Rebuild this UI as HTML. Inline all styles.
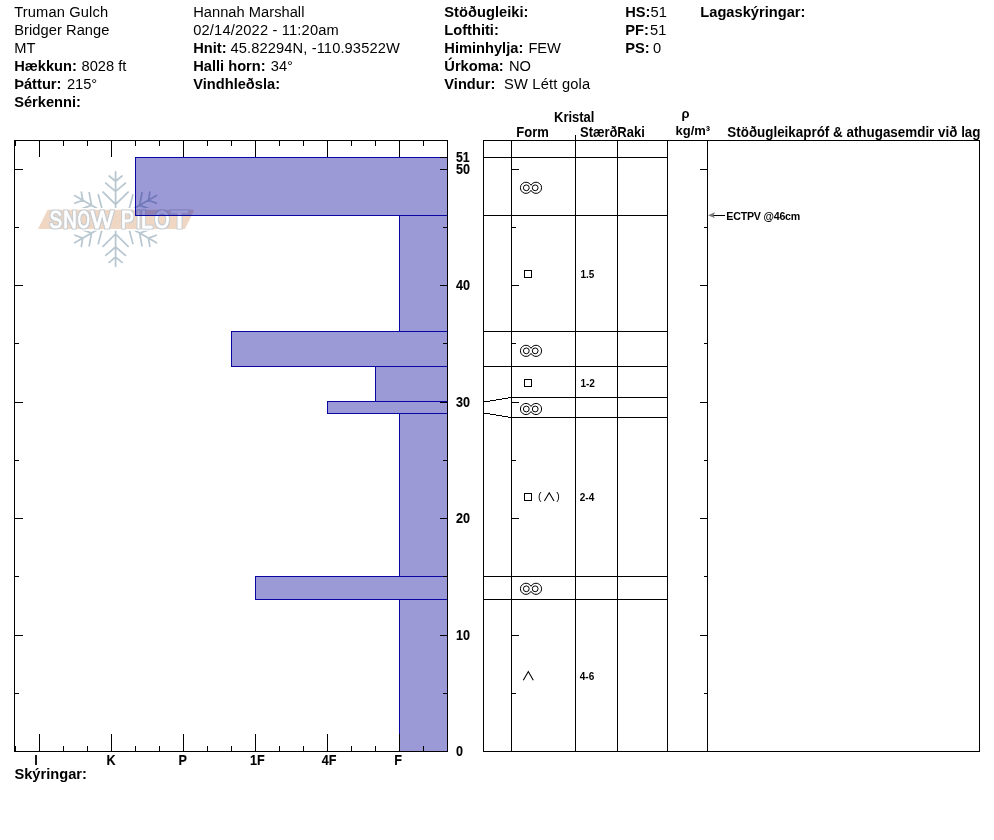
<!DOCTYPE html>
<html lang="is"><head><meta charset="utf-8"><title>Snow Pilot</title>
<style>html,body{margin:0;padding:0;background:#fff}body{width:994px;height:840px;overflow:hidden}svg{display:block}text{font-family:"Liberation Sans", sans-serif;fill:#000}.b{font-weight:bold}.h{font-size:11pt}.l{stroke:#000;stroke-width:1;shape-rendering:crispEdges;fill:none}.ax{font-size:14px;stroke:#000;stroke-width:.12px}.th{font-size:14px}.th2{font-size:13.33px}.sm{font-size:8pt}.par{font-size:10.5px}.lg{font-size:24px;fill:#fff;stroke:#fff;stroke-width:.8px}</style></head><body>
<svg width="994" height="840" viewBox="0 0 994 840">
<rect width="994" height="840" fill="#fff"/>
<text x="14.2" y="16.7" class="h" letter-spacing="0.145">Truman Gulch</text>
<text x="14.2" y="34.7" class="h" letter-spacing="0.06">Bridger Range</text>
<text x="14.2" y="52.7" class="h">MT</text>
<text x="14.2" y="70.7" class="h b">Hækkun:</text>
<text x="81.5" y="70.7" class="h">8028 ft</text>
<text x="14.2" y="88.7" class="h b">Þáttur:</text>
<text x="66.9" y="88.7" class="h">215°</text>
<text x="14.2" y="106.7" class="h b">Sérkenni:</text>
<text x="193.2" y="16.7" class="h" letter-spacing="0.03">Hannah Marshall</text>
<text x="193.2" y="34.7" class="h" letter-spacing="0.17">02/14/2022 - 11:20am</text>
<text x="193.2" y="52.7" class="h b">Hnit:</text>
<text x="230.5" y="52.7" class="h" letter-spacing="0.12">45.82294N, -110.93522W</text>
<text x="193.2" y="70.7" class="h b">Halli horn:</text>
<text x="270.8" y="70.7" class="h">34°</text>
<text x="193.2" y="88.7" class="h b">Vindhleðsla:</text>
<text x="444.3" y="16.7" class="h b" letter-spacing="0.03">Stöðugleiki:</text>
<text x="444.3" y="34.7" class="h b">Lofthiti:</text>
<text x="444.3" y="52.7" class="h b">Himinhylja:</text>
<text x="528.4" y="52.7" class="h">FEW</text>
<text x="444.3" y="70.7" class="h b">Úrkoma:</text>
<text x="508.9" y="70.7" class="h">NO</text>
<text x="444.3" y="88.7" class="h b">Vindur:</text>
<text x="504.1" y="88.7" class="h" letter-spacing="0.2">SW Létt gola</text>
<text x="625.2" y="16.7" class="h b">HS:</text>
<text x="650.5" y="16.7" class="h">51</text>
<text x="625.2" y="34.7" class="h b">PF:</text>
<text x="650.1" y="34.7" class="h">51</text>
<text x="625.2" y="52.7" class="h b">PS:</text>
<text x="653.0" y="52.7" class="h">0</text>
<text x="700.3" y="16.7" class="h b">Lagaskýringar:</text>
<g opacity="0.5">
<g stroke="#7691a3" stroke-width="1.8" stroke-linecap="round" fill="none">
<g transform="translate(115.6 219.2) rotate(0) scale(0.985)">
<path d="M0 -9V-48 M-12.7 -27.6L0 -15L12.7 -27.6 M-10 -36.7L0 -28.2L10 -36.7 M-6.5 -43.9L0 -38.5L6.5 -43.9"/>
</g>
<g transform="translate(115.6 219.2) rotate(60) scale(0.985)">
<path d="M0 -9V-48 M-12.7 -27.6L0 -15L12.7 -27.6 M-10 -36.7L0 -28.2L10 -36.7 M-6.5 -43.9L0 -38.5L6.5 -43.9"/>
</g>
<g transform="translate(115.6 219.2) rotate(120) scale(0.985)">
<path d="M0 -9V-48 M-12.7 -27.6L0 -15L12.7 -27.6 M-10 -36.7L0 -28.2L10 -36.7 M-6.5 -43.9L0 -38.5L6.5 -43.9"/>
</g>
<g transform="translate(115.6 219.2) rotate(180) scale(0.985)">
<path d="M0 -9V-48 M-12.7 -27.6L0 -15L12.7 -27.6 M-10 -36.7L0 -28.2L10 -36.7 M-6.5 -43.9L0 -38.5L6.5 -43.9"/>
</g>
<g transform="translate(115.6 219.2) rotate(240) scale(0.985)">
<path d="M0 -9V-48 M-12.7 -27.6L0 -15L12.7 -27.6 M-10 -36.7L0 -28.2L10 -36.7 M-6.5 -43.9L0 -38.5L6.5 -43.9"/>
</g>
<g transform="translate(115.6 219.2) rotate(300) scale(0.985)">
<path d="M0 -9V-48 M-12.7 -27.6L0 -15L12.7 -27.6 M-10 -36.7L0 -28.2L10 -36.7 M-6.5 -43.9L0 -38.5L6.5 -43.9"/>
</g>
</g>
<path d="M47.6 209.7H194.5L185 229H38Z" fill="#e2b18a" stroke="#fff" stroke-width="3.4" paint-order="stroke"/>
<filter id="ol" x="-5%" y="-20%" width="110%" height="140%"><feMorphology in="SourceAlpha" operator="dilate" radius="0.7" result="d"/><feFlood flood-color="#8a9ba8"/><feComposite in2="d" operator="in" result="o"/><feMerge><feMergeNode in="o"/><feMergeNode in="SourceGraphic"/></feMerge></filter>
<g>
<text class="lg" y="227.9" filter="url(#ol)"><tspan x="49.6" textLength="12.6" lengthAdjust="spacingAndGlyphs">S</tspan><tspan x="63.2" textLength="13.5" lengthAdjust="spacingAndGlyphs">N</tspan><tspan x="77.8" textLength="12.0" lengthAdjust="spacingAndGlyphs">O</tspan><tspan x="90.8" textLength="22.7" lengthAdjust="spacingAndGlyphs">W</tspan><tspan x="114"> </tspan><tspan x="121" textLength="13" lengthAdjust="spacingAndGlyphs">P</tspan><tspan x="136.7" textLength="3.5" lengthAdjust="spacingAndGlyphs">I</tspan><tspan x="141" textLength="11.8" lengthAdjust="spacingAndGlyphs">L</tspan><tspan x="154.8" textLength="14.6" lengthAdjust="spacingAndGlyphs">O</tspan><tspan x="170.4" textLength="18.1" lengthAdjust="spacingAndGlyphs">T</tspan></text>
</g>
</g>
<rect x="135.5" y="157.5" width="312.0" height="58.0" fill="#020097" fill-opacity="0.395" stroke="#0a06a4" stroke-width="1" shape-rendering="crispEdges"/>
<rect x="399.5" y="215.5" width="48.0" height="116.0" fill="#020097" fill-opacity="0.395" stroke="#0a06a4" stroke-width="1" shape-rendering="crispEdges"/>
<rect x="231.5" y="331.5" width="216.0" height="35.0" fill="#020097" fill-opacity="0.395" stroke="#0a06a4" stroke-width="1" shape-rendering="crispEdges"/>
<rect x="375.5" y="366.5" width="72.0" height="35.0" fill="#020097" fill-opacity="0.395" stroke="#0a06a4" stroke-width="1" shape-rendering="crispEdges"/>
<rect x="327.5" y="401.5" width="120.0" height="12.0" fill="#020097" fill-opacity="0.395" stroke="#0a06a4" stroke-width="1" shape-rendering="crispEdges"/>
<rect x="399.5" y="413.5" width="48.0" height="163.0" fill="#020097" fill-opacity="0.395" stroke="#0a06a4" stroke-width="1" shape-rendering="crispEdges"/>
<rect x="255.5" y="576.5" width="192.0" height="23.0" fill="#020097" fill-opacity="0.395" stroke="#0a06a4" stroke-width="1" shape-rendering="crispEdges"/>
<rect x="399.5" y="599.5" width="48.0" height="152.0" fill="#020097" fill-opacity="0.395" stroke="#0a06a4" stroke-width="1" shape-rendering="crispEdges"/>
<g class="l">
<rect x="14.5" y="140.5" width="433.0" height="611.0"/>
<path d="M15.5 141.0v5 M15.5 751.0v-5 M39.5 141.0v16 M39.5 751.0v-17 M63.5 141.0v5 M63.5 751.0v-5 M87.5 141.0v5 M87.5 751.0v-5 M111.5 141.0v16 M111.5 751.0v-17 M135.5 141.0v5 M135.5 751.0v-5 M159.5 141.0v5 M159.5 751.0v-5 M183.5 141.0v16 M183.5 751.0v-17 M207.5 141.0v5 M207.5 751.0v-5 M231.5 141.0v5 M231.5 751.0v-5 M255.5 141.0v16 M255.5 751.0v-17 M279.5 141.0v5 M279.5 751.0v-5 M303.5 141.0v5 M303.5 751.0v-5 M327.5 141.0v16 M327.5 751.0v-17 M351.5 141.0v5 M351.5 751.0v-5 M375.5 141.0v5 M375.5 751.0v-5 M399.5 141.0v16 M399.5 751.0v-17 M423.5 141.0v5 M423.5 751.0v-5 M447.5 141.0v5 M447.5 751.0v-5 "/>
<path d="M15.0 693.5h4 M447.0 693.5h-4 M15.0 635.5h8 M447.0 635.5h-7 M15.0 576.5h4 M447.0 576.5h-4 M15.0 518.5h8 M447.0 518.5h-7 M15.0 460.5h4 M447.0 460.5h-4 M15.0 402.5h8 M447.0 402.5h-7 M15.0 343.5h4 M447.0 343.5h-4 M15.0 285.5h8 M447.0 285.5h-7 M15.0 227.5h4 M447.0 227.5h-4 M15.0 169.5h8 M447.0 169.5h-7 M447.0 157.5h-7 "/>
</g>
<text transform="translate(36 764.8) scale(0.9 1)" class="b ax" text-anchor="middle">I</text>
<text transform="translate(111 764.8) scale(0.9 1)" class="b ax" text-anchor="middle">K</text>
<text transform="translate(182.6 764.8) scale(0.9 1)" class="b ax" text-anchor="middle">P</text>
<text transform="translate(257.4 764.8) scale(0.9 1)" class="b ax" text-anchor="middle">1F</text>
<text transform="translate(329.1 764.8) scale(0.9 1)" class="b ax" text-anchor="middle">4F</text>
<text transform="translate(398.2 764.8) scale(0.9 1)" class="b ax" text-anchor="middle">F</text>
<text transform="translate(456 756.1) scale(0.9 1)" class="b ax">0</text>
<text transform="translate(456 640.1) scale(0.9 1)" class="b ax">10</text>
<text transform="translate(456 523.1) scale(0.9 1)" class="b ax">20</text>
<text transform="translate(456 407.1) scale(0.9 1)" class="b ax">30</text>
<text transform="translate(456 290.1) scale(0.9 1)" class="b ax">40</text>
<text transform="translate(456 174.1) scale(0.9 1)" class="b ax">50</text>
<text transform="translate(456 162.0) scale(0.88 1)" class="b ax">51</text>
<text x="14.4" y="778.5" class="b h">Skýringar:</text>
<g class="l">
<rect x="483.5" y="140.5" width="496.0" height="611.0"/>
<path d="M511.5 140.5V751.5 M575.5 135V751.5 M617.5 140.5V751.5 M667.5 140.5V751.5 M707.5 140.5V751.5 M511.5 157.5H667.5 M483.5 157.5H511.5 M511.5 215.5H667.5 M483.5 215.5H511.5 M511.5 331.5H667.5 M483.5 331.5H511.5 M511.5 366.5H667.5 M483.5 366.5H511.5 M511.5 397.5H667.5 M511.5 417.5H667.5 M511.5 576.5H667.5 M483.5 576.5H511.5 M511.5 599.5H667.5 M483.5 599.5H511.5 M512 693.5h4 M707 693.5h-3 M512 635.5h7 M707 635.5h-7 M512 576.5h4 M707 576.5h-3 M512 518.5h7 M707 518.5h-7 M512 460.5h4 M707 460.5h-3 M512 402.5h7 M707 402.5h-7 M512 343.5h4 M707 343.5h-3 M512 285.5h7 M707 285.5h-7 M512 227.5h4 M707 227.5h-3 M512 169.5h7 M707 169.5h-7 "/>
</g>
<path d="M484 401.9L511.5 397.5M484 413.1L511.5 417.5" class="l"/>
<text transform="translate(554 122) scale(0.93 1)" class="b th">Kristal</text>
<text transform="translate(516.3 137) scale(0.93 1)" class="b th">Form</text>
<text transform="translate(580 137) scale(0.93 1)" class="b th">Stærð</text>
<text transform="translate(617.3 137) scale(0.93 1)" class="b th">Raki</text>
<text transform="translate(681.5 118) scale(0.975 1)" class="b th2">ρ</text>
<text transform="translate(675.5 135) scale(0.975 1)" class="b th2">kg/m³</text>
<text x="727.3" y="137" class="b th" textLength="253.2" lengthAdjust="spacingAndGlyphs">Stöðugleikapróf &amp; athugasemdir við lag</text>
<g fill="none" stroke="#000" stroke-width="1"><path d="M531 185.28 A5.6 5.6 0 1 0 531 190.32 A5.6 5.6 0 1 0 531 185.28 Z"/><circle cx="526.3" cy="187.8" r="2.9"/><circle cx="535.2" cy="187.8" r="2.9"/></g>
<g fill="none" stroke="#000" stroke-width="1"><path d="M531 348.33 A5.6 5.6 0 1 0 531 353.37 A5.6 5.6 0 1 0 531 348.33 Z"/><circle cx="526.3" cy="350.85" r="2.9"/><circle cx="535.2" cy="350.85" r="2.9"/></g>
<g fill="none" stroke="#000" stroke-width="1"><path d="M531 406.48 A5.6 5.6 0 1 0 531 411.52 A5.6 5.6 0 1 0 531 406.48 Z"/><circle cx="526.3" cy="409" r="2.9"/><circle cx="535.2" cy="409" r="2.9"/></g>
<g fill="none" stroke="#000" stroke-width="1"><path d="M531 586.28 A5.6 5.6 0 1 0 531 591.32 A5.6 5.6 0 1 0 531 586.28 Z"/><circle cx="526.3" cy="588.8" r="2.9"/><circle cx="535.2" cy="588.8" r="2.9"/></g>
<rect x="524.5" y="270.5" width="7" height="7" fill="none" stroke="#000" stroke-width="1" shape-rendering="crispEdges"/>
<rect x="524.5" y="379.5" width="7" height="7" fill="none" stroke="#000" stroke-width="1" shape-rendering="crispEdges"/>
<rect x="524.5" y="493.5" width="7" height="7" fill="none" stroke="#000" stroke-width="1" shape-rendering="crispEdges"/>
<path d="M544.4 501L549.2 492.8L554 501M523.3 680.2L528.3 671.5L533.3 680.2" fill="none" stroke="#000" stroke-width="1.1"/>
<text x="538" y="500.3" class="par">(</text>
<text x="556.2" y="500.3" class="par">)</text>
<text transform="translate(580.4 278) scale(0.94 1)" class="b sm">1.5</text>
<text transform="translate(580.4 386.7) scale(0.94 1)" class="b sm">1-2</text>
<text transform="translate(579.8 500.9) scale(0.94 1)" class="b sm">2-4</text>
<text transform="translate(579.8 679.9) scale(0.94 1)" class="b sm">4-6</text>
<path d="M713 215.5H725" class="l"/>
<path d="M708 215.3L715 212.2L713.4 215.4L715 218.2Z" fill="#7a7a7a"/>
<text x="726.3" y="220" class="b sm" textLength="74" lengthAdjust="spacing">ECTPV @46cm</text>
</svg></body></html>
